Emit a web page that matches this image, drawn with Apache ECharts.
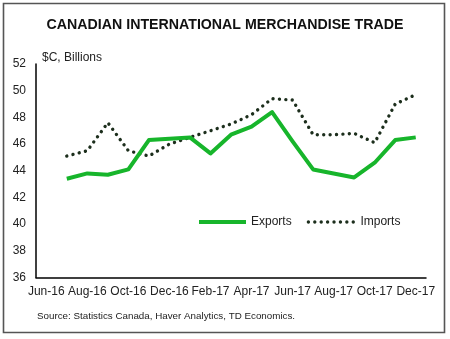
<!DOCTYPE html>
<html>
<head>
<meta charset="utf-8">
<script src="https://cdn.jsdelivr.net/npm/echarts@6/dist/echarts.min.js"></script>
<style>
  html, body { margin: 0; padding: 0; background: #fff; }
  #chart { width: 450px; height: 339px; }
</style>
</head>
<body>
<div id="chart"></div>
<script>
// Monthly categories, Jun-16 to Dec-17
const months = ['Jun-16','Jul-16','Aug-16','Sep-16','Oct-16','Nov-16','Dec-16',
  'Jan-17','Feb-17','Mar-17','Apr-17','May-17','Jun-17','Jul-17','Aug-17',
  'Sep-17','Oct-17','Nov-17','Dec-17'];

// Merchandise trade, $C billions (no Jun-16 observation)
const exportsVals = [null, 43.4, 43.8, 43.7, 44.1, 46.3, 46.4, 46.5, 45.3, 46.7,
  47.3, 48.4, 46.2, 44.1, 43.8, 43.5, 44.6, 46.3, 46.5];
const importsVals = [null, 45.1, 45.5, 47.6, 45.5, 45.1, 46.0, 46.5, 47.0, 47.5,
  48.2, 49.4, 49.3, 46.7, 46.7, 46.8, 46.1, 49.0, 49.7];

// Value-axis ticks
const yTicks = [36, 38, 40, 42, 44, 46, 48, 50, 52];

const GREEN = '#17b52b';
const DOT = '#1c2e1c';
const FONT = '"Liberation Sans", Arial, sans-serif';

const exportsLine = { color: GREEN, width: 4, join: 'round' };
const importsLine = { color: DOT, width: 3.4, type: [0.01, 6.4], cap: 'round' };

const chart = echarts.init(document.getElementById('chart'), null, { renderer: 'canvas' });

chart.setOption({
  animation: false,
  backgroundColor: '#fff',
  textStyle: { fontFamily: FONT },
  title: {
    text: 'CANADIAN INTERNATIONAL MERCHANDISE TRADE',
    left: 'center',
    top: 13,
    textStyle: { fontFamily: FONT, fontSize: 14.2, fontWeight: 'bold', color: '#111' }
  },
  grid: { left: 36, right: 24, top: 64, bottom: 61.5 },
  legend: {
    left: 197,
    top: 216,
    padding: 0,
    itemWidth: 47,
    itemHeight: 14,
    itemGap: 15,
    itemStyle: { opacity: 0 },
    textStyle: { fontFamily: FONT, fontSize: 12, color: '#222' },
    data: [
      { name: 'Exports', lineStyle: exportsLine },
      { name: 'Imports', lineStyle: importsLine }
    ]
  },
  xAxis: {
    type: 'category',
    data: months,
    boundaryGap: true,
    axisLine: { lineStyle: { color: '#000', width: 1.5 } },
    axisTick: { show: false },
    axisLabel: {
      interval: 1,
      color: '#222',
      fontFamily: FONT,
      fontSize: 12,
      margin: 8
    },
    splitLine: { show: false }
  },
  yAxis: {
    type: 'value',
    min: yTicks[0],
    max: yTicks[yTicks.length - 1],
    interval: 2,
    axisLine: { show: true, lineStyle: { color: '#000', width: 1.5 } },
    axisTick: { show: false },
    splitLine: { show: false },
    axisLabel: { color: '#222', fontFamily: FONT, fontSize: 12, margin: 10 }
  },
  graphic: [
    {
      type: 'rect',
      shape: { x: 3.5, y: 3.5, width: 441, height: 329 },
      style: { fill: 'none', stroke: '#555', lineWidth: 1.6 },
      silent: true
    },
    {
      type: 'text',
      left: 42,
      top: 52,
      style: { text: '$C, Billions', fontFamily: FONT, fontSize: 12, fill: '#222' }
    },
    {
      type: 'text',
      left: 37,
      top: 311,
      style: {
        text: 'Source: Statistics Canada, Haver Analytics, TD Economics.',
        fontFamily: FONT, fontSize: 9.8, fill: '#222'
      }
    }
  ],
  series: [
    {
      name: 'Exports',
      type: 'line',
      data: exportsVals,
      symbol: 'none',
      color: GREEN,
      lineStyle: exportsLine,
      z: 3
    },
    {
      name: 'Imports',
      type: 'line',
      data: importsVals,
      symbol: 'none',
      color: DOT,
      lineStyle: importsLine,
      z: 2
    }
  ]
});
</script>
</body>
</html>
